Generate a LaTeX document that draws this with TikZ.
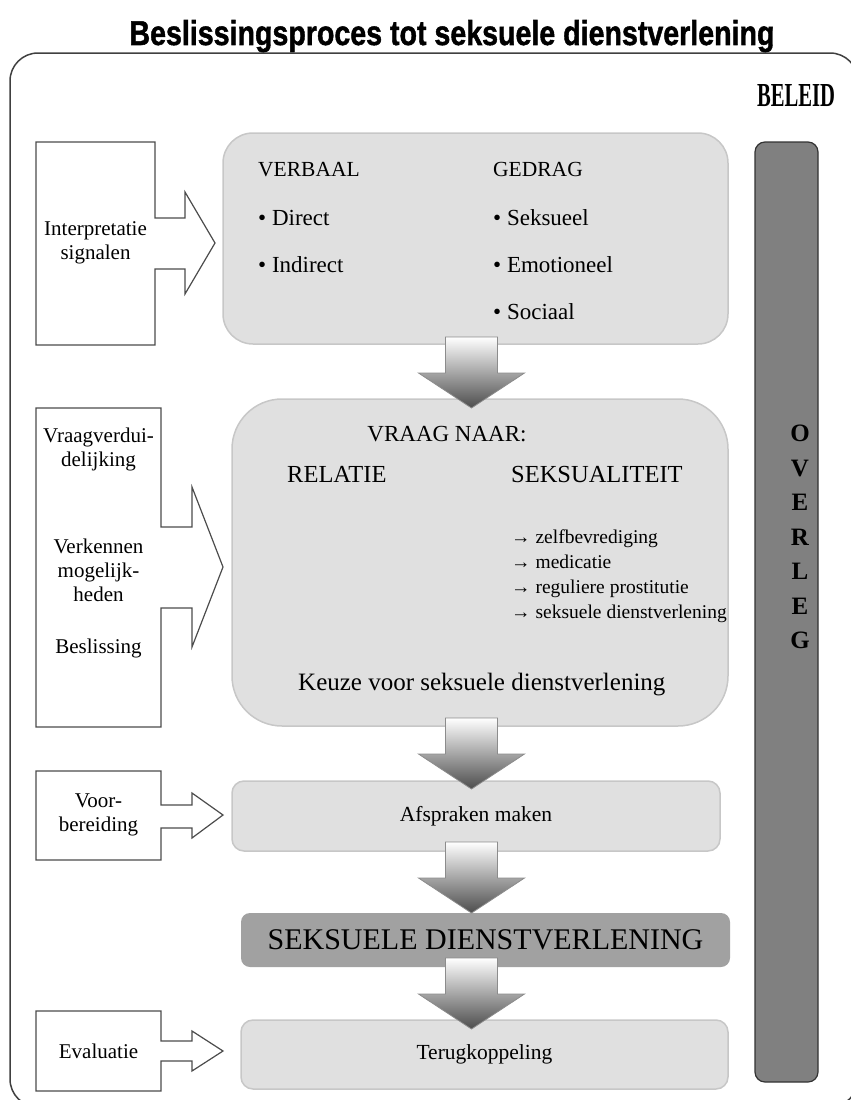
\documentclass[tikz,border=0pt]{standalone}
\usepackage{fontspec}
\setmainfont{Liberation Serif}
\newfontfamily\titlefont[BoldFeatures={FakeBold=1.5}]{Liberation Sans}
\usetikzlibrary{positioning, calc}

\begin{document}
\begin{tikzpicture}[
    x=1pt, y=-1pt,
    greybox/.style={draw=black!22, fill=black!12, line width=1.5pt, inner sep=0pt},
    sidebox/.style={draw=black!70, fill=white, line width=1.2pt, line join=miter},
    boxtext/.style={font=\fontsize{23}{27}\selectfont, inner sep=0pt},
    headtext/.style={font=\fontsize{21.5}{25}\selectfont, inner sep=0pt},
    listtext/.style={font=\fontsize{19.5}{25}\selectfont, inner sep=0pt, align=left},
    sidetext/.style={font=\fontsize{21}{24}\selectfont, inner sep=0pt, align=center},
    overlegtext/.style={font=\fontsize{25}{25}\selectfont\bfseries, inner sep=0pt, anchor=base},
    downarrow/.pic={\draw[draw=black!45, line width=0.8pt, top color=white, bottom color=black!70]
        (-26,0) -- (26,0) -- (26,36) -- (53,36) -- (0,71) -- (-53,36) -- (-26,36) -- cycle;}
]
    \useasboundingbox (0,0) rectangle (851,1100);
    \clip (0,0) rectangle (851,1100);

    % Title and frame
    \node[font=\titlefont\bfseries, inner sep=0pt, anchor=base] (title) at (452,45)
        {\resizebox{645pt}{25pt}{Beslissingsproces tot seksuele dienstverlening}};
    \draw[black!75, line width=1.5pt, rounded corners=28pt] (10,53) rectangle (858,1107);
    \node[inner sep=0pt, anchor=base] (policy) at (796,106) {\resizebox{78pt}{22pt}{\bfseries BELEID}};

    % Side boxes with arrows
    \draw[sidebox] (36,142) -- (155,142) -- (155,218) -- (185,218) -- (185,192) -- (215,243)
        -- (185,294) -- (185,269) -- (155,269) -- (155,345) -- (36,345) -- cycle;
    \draw[sidebox] (36,408) -- (161,408) -- (161,527) -- (192,527) -- (192,487) -- (223,567)
        -- (192,647) -- (192,608) -- (161,608) -- (161,727) -- (36,727) -- cycle;
    \draw[sidebox] (36,771) -- (161,771) -- (161,805) -- (192,805) -- (192,793) -- (223,815)
        -- (192,838) -- (192,828) -- (161,828) -- (161,860) -- (36,860) -- cycle;
    \draw[sidebox] (36,1011) -- (161,1011) -- (161,1041) -- (192,1041) -- (192,1031) -- (223,1051)
        -- (192,1071) -- (192,1061) -- (161,1061) -- (161,1091) -- (36,1091) -- cycle;

    \node[sidetext] (interp) at (95.5,243) {Interpretatie\\signalen};
    \node[sidetext] (clarify) at (98.5,449) {Vraagverdui-\\delijking};
    \node[sidetext] (explore) at (98.5,570) {Verkennen\\mogelijk-\\heden};
    \node[sidetext] (decide) at (98.5,648) {Beslissing};
    \node[sidetext] (prepare) at (98.5,815) {Voor-\\bereiding};
    \node[sidetext] (evaluate) at (98.5,1051) {Evaluatie};

    % Grey process boxes
    \node[greybox, rounded corners=30pt, minimum width=505pt, minimum height=211pt] (signals) at (475.5,238.5) {};
    \node[greybox, rounded corners=50pt, minimum width=496pt, minimum height=327pt] (request) at (480,562.5) {};
    \node[greybox, rounded corners=12pt, minimum width=488pt, minimum height=70pt, font=\fontsize{21.5}{25}\selectfont] (agree) at (476,816) {Afspraken maken};
    \node[greybox, draw=none, fill=black!37, rounded corners=9pt, minimum width=489pt, minimum height=54pt, font=\fontsize{30}{34}\selectfont] (service) at (485.5,940) {SEKSUELE DIENSTVERLENING};
    \node[greybox, rounded corners=12pt, minimum width=487pt, minimum height=69pt, font=\fontsize{21.5}{25}\selectfont] (feedback) at (484.5,1054.5) {Terugkoppeling};

    % Signals
    \node[headtext, anchor=base west] (verbal) at (258,176) {VERBAAL};
    \node[boxtext, anchor=base west] (direct) at (258,225) {\textbullet\ Direct};
    \node[boxtext, anchor=base west] (indirect) at (258,272) {\textbullet\ Indirect};
    \node[headtext, anchor=base west] (behaviour) at (493,176) {GEDRAG};
    \node[boxtext, anchor=base west] (sexual) at (493,225) {\textbullet\ Seksueel};
    \node[boxtext, anchor=base west] (emotional) at (493,272) {\textbullet\ Emotioneel};
    \node[boxtext, anchor=base west] (social) at (493,319) {\textbullet\ Sociaal};

    % Request
    \node[boxtext, anchor=base] (ask) at (447,441) {VRAAG NAAR:};
    \node[boxtext, font=\fontsize{24.5}{28}\selectfont, anchor=base west] (relation) at (287,482) {RELATIE};
    \node[boxtext, font=\fontsize{24.5}{28}\selectfont, anchor=base west] (sexuality) at (511,482) {SEKSUALITEIT};
    \node[listtext, anchor=west] (options) at (511,576)
        {→ zelfbevrediging\\→ medicatie\\→ reguliere prostitutie\\→ seksuele dienstverlening};
    \node[boxtext, font=\fontsize{25}{29}\selectfont, anchor=base west] (choice) at (298,690) {Keuze voor seksuele dienstverlening};

    % Overleg bar
    \node[draw=black!80, fill=black!50, line width=1.2pt, rounded corners=10pt, minimum width=63pt, minimum height=940pt] (consult) at (786.5,612) {};
    \foreach \ch [count=\i] in {O,V,E,R,L,E,G}
        \node[overlegtext] (ov\i) at (800,{441.5+34.5*(\i-1)}) {\ch};

    % Block arrows
    \pic at (471.5,337) {downarrow};
    \pic at (471.5,718) {downarrow};
    \pic at (471.5,842) {downarrow};
    \pic at (471.5,958) {downarrow};

\end{tikzpicture}
\end{document}
